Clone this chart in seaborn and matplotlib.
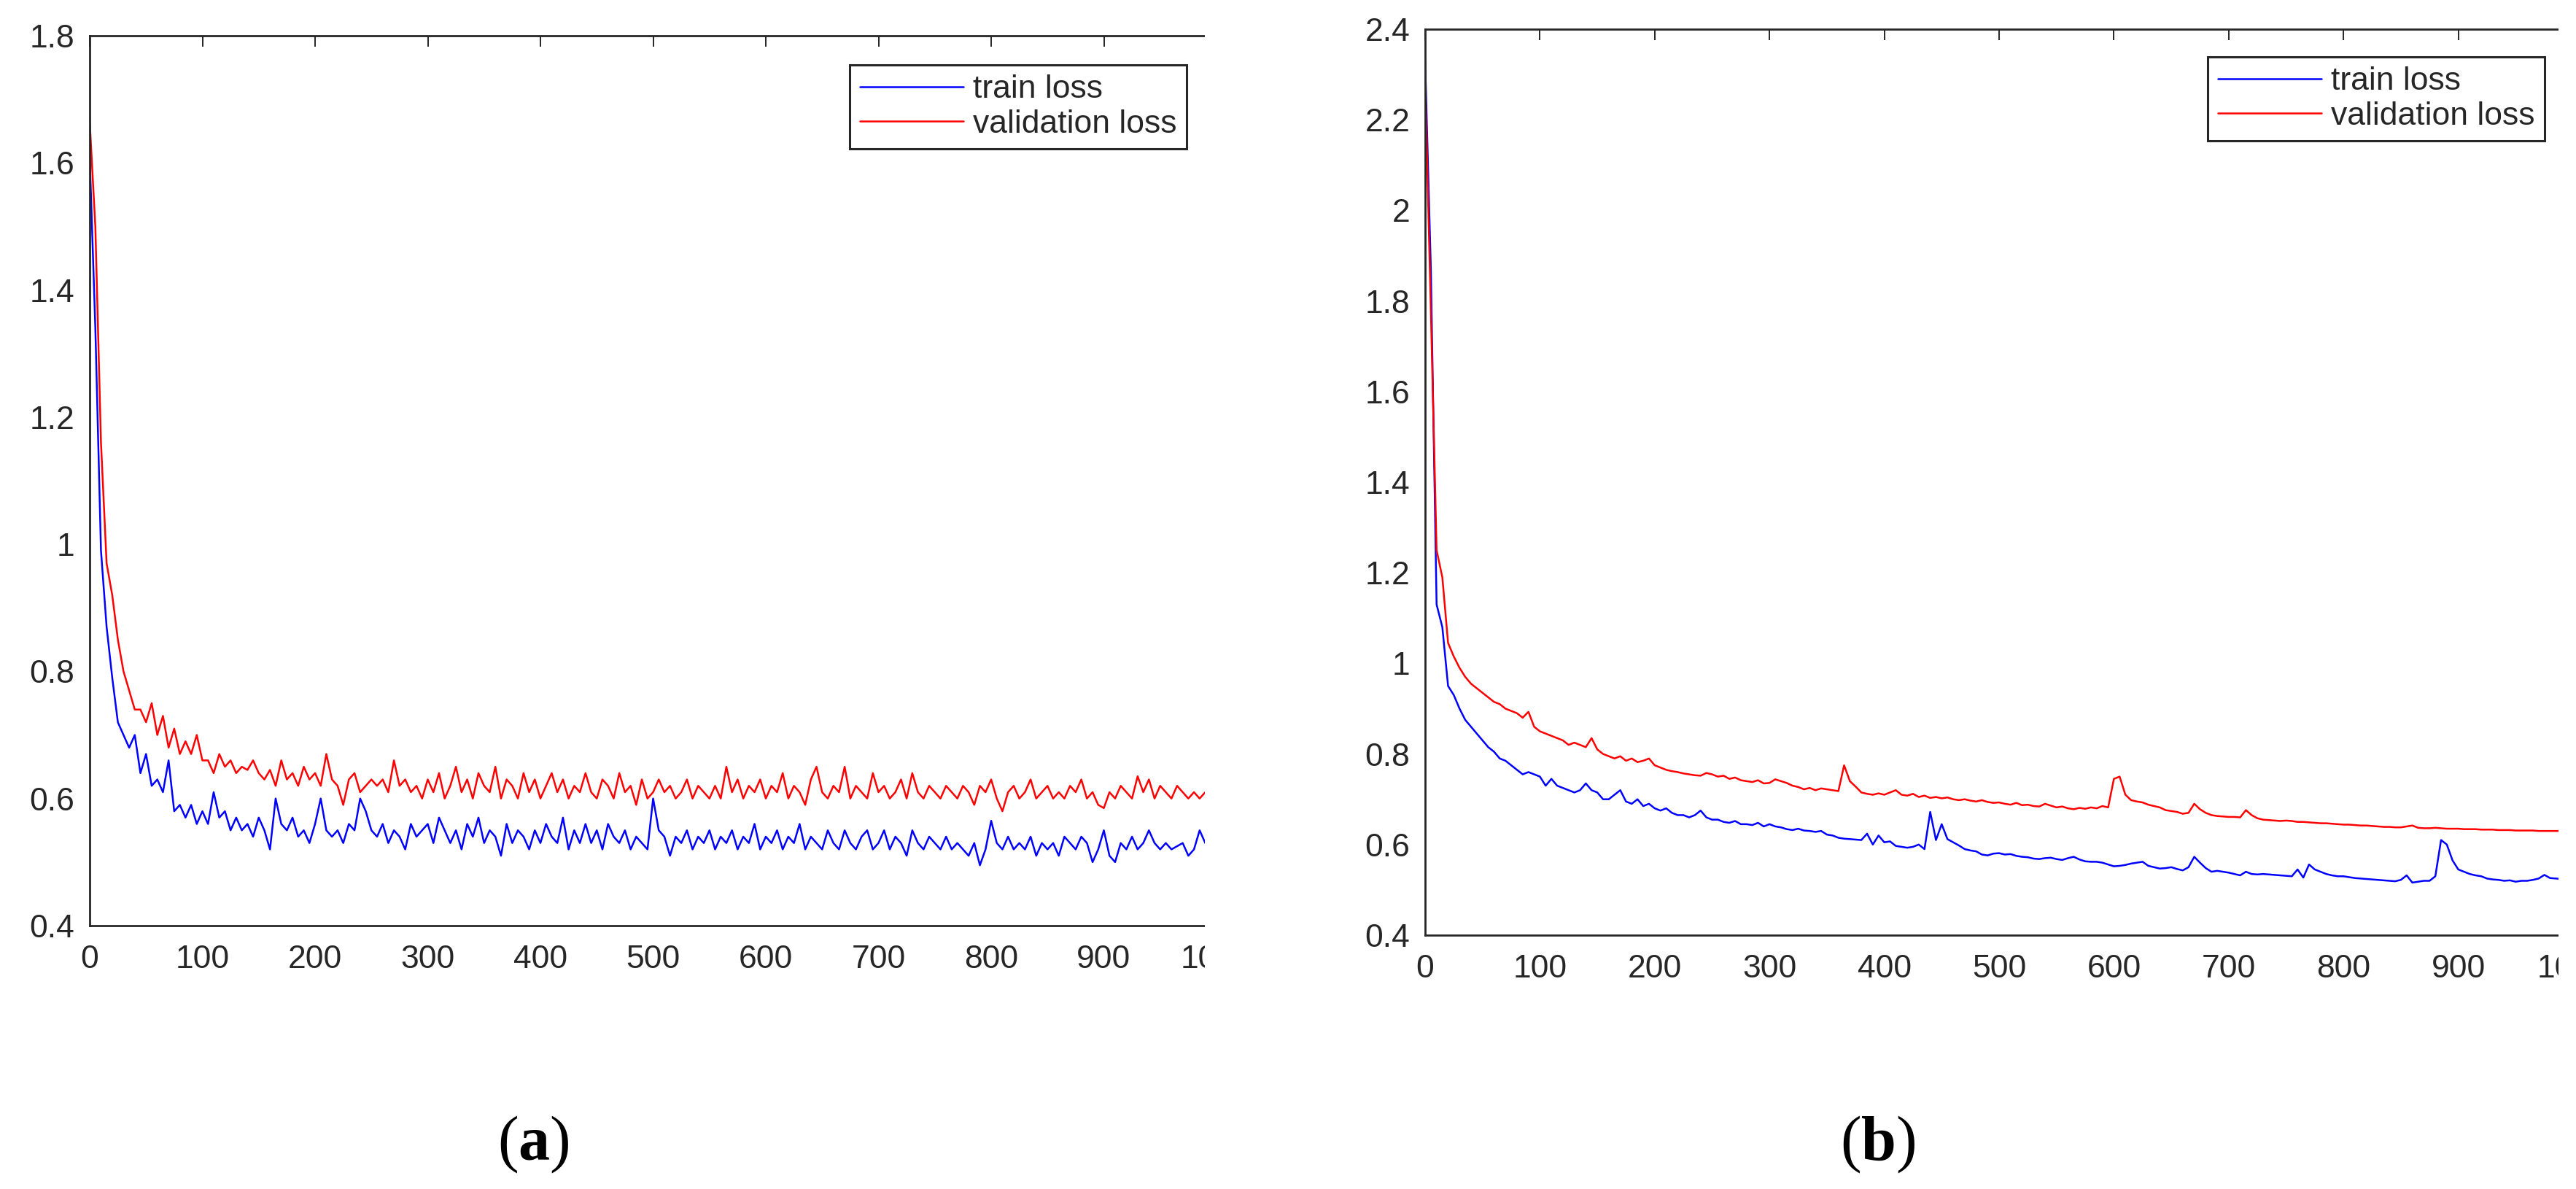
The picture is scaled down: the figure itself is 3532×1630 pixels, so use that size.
import matplotlib
matplotlib.use("Agg")
import matplotlib.pyplot as plt
from matplotlib.patches import Rectangle
import pandas as pd
import seaborn as sns

epochs = list(range(0, 1001, 5))

train_a = [
    1.61, 1.34, 0.99, 0.87, 0.79, 0.72, 0.70, 0.68, 0.70, 0.64,
    0.67, 0.62, 0.63, 0.61, 0.66, 0.58, 0.59, 0.57, 0.59, 0.56,
    0.58, 0.56, 0.61, 0.57, 0.58, 0.55, 0.57, 0.55, 0.56, 0.54,
    0.57, 0.55, 0.52, 0.60, 0.56, 0.55, 0.57, 0.54, 0.55, 0.53,
    0.56, 0.60, 0.55, 0.54, 0.55, 0.53, 0.56, 0.55, 0.60, 0.58,
    0.55, 0.54, 0.56, 0.53, 0.55, 0.54, 0.52, 0.56, 0.54, 0.55,
    0.56, 0.53, 0.57, 0.55, 0.53, 0.55, 0.52, 0.56, 0.54, 0.57,
    0.53, 0.55, 0.54, 0.51, 0.56, 0.53, 0.55, 0.54, 0.52, 0.55,
    0.53, 0.56, 0.54, 0.53, 0.57, 0.52, 0.55, 0.53, 0.56, 0.53,
    0.55, 0.52, 0.56, 0.54, 0.53, 0.55, 0.52, 0.54, 0.53, 0.52,
    0.60, 0.55, 0.54, 0.51, 0.54, 0.53, 0.55, 0.52, 0.54, 0.53,
    0.55, 0.52, 0.54, 0.53, 0.55, 0.52, 0.54, 0.53, 0.56, 0.52,
    0.54, 0.53, 0.55, 0.52, 0.54, 0.53, 0.56, 0.52, 0.54, 0.53,
    0.52, 0.55, 0.53, 0.52, 0.55, 0.53, 0.52, 0.54, 0.55, 0.52,
    0.53, 0.55, 0.52, 0.54, 0.53, 0.51, 0.55, 0.53, 0.52, 0.54,
    0.53, 0.52, 0.54, 0.52, 0.53, 0.52, 0.51, 0.53, 0.495, 0.52,
    0.565, 0.53, 0.52, 0.54, 0.52, 0.53, 0.52, 0.54, 0.51, 0.53,
    0.52, 0.53, 0.51, 0.54, 0.53, 0.52, 0.54, 0.53, 0.50, 0.52,
    0.55, 0.51, 0.50, 0.53, 0.52, 0.54, 0.52, 0.53, 0.55, 0.53,
    0.52, 0.53, 0.52, 0.525, 0.53, 0.51, 0.52, 0.55, 0.53, 0.52,
    0.53,
]

val_a = [
    1.665, 1.50, 1.16, 0.97, 0.92, 0.85, 0.80, 0.77, 0.74, 0.74,
    0.72, 0.75, 0.70, 0.73, 0.68, 0.71, 0.67, 0.69, 0.67, 0.70,
    0.66, 0.66, 0.64, 0.67, 0.65, 0.66, 0.64, 0.65, 0.645, 0.66,
    0.64, 0.63, 0.645, 0.62, 0.66, 0.63, 0.64, 0.62, 0.65, 0.63,
    0.64, 0.62, 0.67, 0.63, 0.62, 0.59, 0.63, 0.64, 0.61, 0.62,
    0.63, 0.62, 0.63, 0.61, 0.66, 0.62, 0.63, 0.61, 0.62, 0.60,
    0.63, 0.61, 0.64, 0.60, 0.62, 0.65, 0.61, 0.63, 0.60, 0.64,
    0.62, 0.61, 0.65, 0.60, 0.63, 0.62, 0.60, 0.64, 0.61, 0.63,
    0.60, 0.62, 0.64, 0.61, 0.63, 0.60, 0.62, 0.61, 0.64, 0.61,
    0.60, 0.63, 0.62, 0.60, 0.64, 0.61, 0.62, 0.59, 0.63, 0.60,
    0.61, 0.63, 0.61, 0.62, 0.60, 0.61, 0.63, 0.60, 0.62, 0.61,
    0.60, 0.62, 0.60, 0.65, 0.61, 0.63, 0.60, 0.62, 0.61, 0.63,
    0.60, 0.62, 0.61, 0.64, 0.60, 0.62, 0.61, 0.59, 0.63, 0.65,
    0.61, 0.60, 0.62, 0.61, 0.65, 0.60, 0.62, 0.61, 0.60, 0.64,
    0.61, 0.62, 0.60, 0.61, 0.63, 0.60, 0.64, 0.61, 0.60, 0.62,
    0.61, 0.60, 0.62, 0.61, 0.60, 0.62, 0.61, 0.59, 0.62, 0.61,
    0.63, 0.60, 0.58, 0.61, 0.62, 0.60, 0.61, 0.63, 0.60, 0.61,
    0.62, 0.60, 0.61, 0.60, 0.62, 0.61, 0.63, 0.60, 0.61, 0.59,
    0.585, 0.61, 0.60, 0.62, 0.61, 0.60, 0.635, 0.61, 0.63, 0.60,
    0.62, 0.61, 0.60, 0.62, 0.61, 0.60, 0.61, 0.60, 0.61, 0.60,
    0.61,
]

train_b = [
    2.33, 1.87, 1.13, 1.08, 0.95, 0.93, 0.90, 0.875, 0.86, 0.845,
    0.83, 0.815, 0.805, 0.79, 0.785, 0.775, 0.765, 0.755, 0.76, 0.755,
    0.75, 0.73, 0.745, 0.73, 0.725, 0.72, 0.715, 0.72, 0.735, 0.72,
    0.715, 0.70, 0.70, 0.71, 0.72, 0.695, 0.69, 0.70, 0.685, 0.69,
    0.68, 0.675, 0.68, 0.67, 0.665, 0.665, 0.66, 0.665, 0.675, 0.66,
    0.655, 0.655, 0.65, 0.648, 0.652, 0.645, 0.645, 0.643, 0.648, 0.64,
    0.645, 0.64, 0.638, 0.634, 0.632, 0.635, 0.631, 0.63, 0.628, 0.63,
    0.622, 0.62, 0.615, 0.613, 0.612, 0.611, 0.61, 0.624, 0.60, 0.62,
    0.605, 0.607, 0.597, 0.595, 0.593, 0.595, 0.60, 0.59, 0.672, 0.61,
    0.645, 0.612, 0.605, 0.598, 0.59, 0.587, 0.585, 0.578, 0.576, 0.58,
    0.581, 0.578, 0.579, 0.575, 0.573, 0.572, 0.569, 0.568, 0.57, 0.571,
    0.568, 0.566, 0.57, 0.573, 0.567, 0.563, 0.562, 0.562, 0.56, 0.556,
    0.552, 0.553, 0.555, 0.558, 0.56, 0.562, 0.553, 0.55, 0.547, 0.548,
    0.55, 0.546, 0.543, 0.55, 0.573, 0.56, 0.548, 0.54, 0.542, 0.54,
    0.538, 0.535, 0.532, 0.54, 0.535, 0.534, 0.535, 0.534, 0.533, 0.532,
    0.531, 0.53, 0.545, 0.527, 0.556, 0.545, 0.54, 0.535, 0.532, 0.53,
    0.53, 0.528, 0.526, 0.525, 0.524, 0.523, 0.522, 0.521, 0.52, 0.519,
    0.522, 0.532, 0.516, 0.518, 0.52, 0.52, 0.53, 0.61, 0.60, 0.565,
    0.545, 0.54, 0.535, 0.532, 0.53, 0.525, 0.523, 0.522, 0.52, 0.521,
    0.518, 0.52, 0.52, 0.522, 0.525, 0.533, 0.526, 0.525, 0.524, 0.526,
    0.525,
]

val_b = [
    2.29, 1.78, 1.25, 1.19, 1.045, 1.015, 0.99, 0.97, 0.955, 0.945,
    0.935, 0.925, 0.915, 0.91, 0.90, 0.895, 0.89, 0.88, 0.893, 0.86,
    0.85, 0.845, 0.84, 0.835, 0.83, 0.82, 0.825, 0.82, 0.815, 0.835,
    0.81, 0.80, 0.795, 0.79, 0.795, 0.785, 0.79, 0.782, 0.785, 0.79,
    0.775, 0.77, 0.765, 0.762, 0.76, 0.757, 0.755, 0.753, 0.752, 0.758,
    0.755, 0.75, 0.752, 0.745, 0.748, 0.742, 0.74, 0.738, 0.742, 0.735,
    0.736, 0.744, 0.74, 0.736, 0.73, 0.727, 0.722, 0.725, 0.72, 0.724,
    0.722, 0.72, 0.718, 0.775, 0.74, 0.728, 0.715, 0.712, 0.71, 0.713,
    0.71, 0.715, 0.72, 0.71, 0.708, 0.712, 0.705, 0.708, 0.703, 0.705,
    0.702, 0.704, 0.70, 0.698, 0.70, 0.697, 0.695, 0.698, 0.694, 0.692,
    0.693, 0.69, 0.688, 0.692, 0.687, 0.688, 0.685, 0.684, 0.69, 0.686,
    0.682, 0.684, 0.68, 0.678, 0.681, 0.679, 0.682, 0.68, 0.685, 0.682,
    0.745, 0.75, 0.71, 0.698, 0.695, 0.693, 0.688, 0.685, 0.682, 0.676,
    0.674, 0.672, 0.668, 0.67, 0.69, 0.678, 0.67, 0.665, 0.663, 0.662,
    0.661, 0.661, 0.66, 0.676, 0.665, 0.658, 0.655, 0.654, 0.653, 0.652,
    0.653, 0.652, 0.65, 0.65, 0.649, 0.648, 0.647, 0.647, 0.646, 0.645,
    0.644, 0.644, 0.643, 0.642, 0.642, 0.641, 0.64, 0.639, 0.639, 0.638,
    0.638, 0.64, 0.642, 0.637, 0.636, 0.636, 0.637, 0.636, 0.635, 0.635,
    0.635, 0.634, 0.634, 0.634, 0.633, 0.633, 0.633, 0.632, 0.632, 0.632,
    0.631, 0.631, 0.631, 0.631, 0.63, 0.63, 0.63, 0.63, 0.63, 0.63,
    0.63,
]

xticks = list(range(0, 1001, 100))
yticks_a = [0.4, 0.6, 0.8, 1.0, 1.2, 1.4, 1.6, 1.8]
ylabels_a = ["0.4", "0.6", "0.8", "1", "1.2", "1.4", "1.6", "1.8"]
yticks_b = [0.4, 0.6, 0.8, 1.0, 1.2, 1.4, 1.6, 1.8, 2.0, 2.2, 2.4]
ylabels_b = ["0.4", "0.6", "0.8", "1", "1.2", "1.4", "1.6", "1.8", "2", "2.2", "2.4"]

sns.set_style("white")
plt.rcParams["font.family"] = ["Liberation Sans", "DejaVu Sans"]
plt.rcParams["mathtext.fontset"] = "custom"
plt.rcParams["mathtext.rm"] = "Liberation Serif"
plt.rcParams["mathtext.bf"] = "Liberation Serif:bold"

W, H = 3532, 1630
INK = "#262626"
fig = plt.figure(figsize=(W / 100, H / 100), dpi=100)


def px_box(left, top, right, bottom):
    return [left / W, 1 - bottom / H, (right - left) / W, (bottom - top) / H]


def draw_panel(ax, train, val, ylim, yticks, ylabels, leg_right, leg_top):
    df = pd.DataFrame({"epoch": epochs, "train": train, "val": val})
    sns.lineplot(data=df, x="epoch", y="train", ax=ax, color="#0000ff",
                 linewidth=1.8, label="train loss")
    sns.lineplot(data=df, x="epoch", y="val", ax=ax, color="#ff0000",
                 linewidth=1.8, label="validation loss")
    ax.set_xlim(0, 1000)
    ax.set_ylim(*ylim)
    ax.set_xticks(xticks)
    ax.set_yticks(yticks)
    ax.set_yticklabels(ylabels)
    ax.set_xlabel("")
    ax.set_ylabel("")
    ax.tick_params(direction="in", length=11, width=1.4, top=True, right=True,
                   labelsize=32, colors=INK)
    ax.tick_params(axis="x", pad=19)
    ax.tick_params(axis="y", pad=15)
    for s in ax.spines.values():
        s.set_color(INK)
        s.set_linewidth(2.0)
    leg = ax.legend(loc="upper right", bbox_to_anchor=(leg_right / W, 1 - leg_top / H),
                    bbox_transform=fig.transFigure, borderaxespad=0, fontsize=32,
                    handlelength=3.2, handletextpad=0.3, labelspacing=0.15,
                    borderpad=0.3, fancybox=False, framealpha=1, edgecolor=INK)
    leg.get_frame().set_linewidth(2.2)


ax_a = fig.add_axes(px_box(123, 49, 1668, 1269))
ax_b = fig.add_axes(px_box(1954, 40, 3528, 1282))
draw_panel(ax_a, train_a, val_a, (0.4, 1.8), yticks_a, ylabels_a, 1627, 89)
draw_panel(ax_b, train_b, val_b, (0.4, 2.4), yticks_b, ylabels_b, 3489, 78)

# the source figure was cropped just before x = 1000 on both panels
fig.add_artist(Rectangle((1652 / W, 0), 150 / W, 1, transform=fig.transFigure,
                         facecolor="white", edgecolor="none", zorder=10))
fig.add_artist(Rectangle((3508 / W, 0), 40 / W, 1, transform=fig.transFigure,
                         facecolor="white", edgecolor="none", zorder=10))

fig.text(731 / W, 1 - 1569 / H, r"$(\mathbf{a})$", ha="center", va="center",
         fontsize=62, color="black")
fig.text(2575 / W, 1 - 1569 / H, r"$(\mathbf{b})$", ha="center", va="center",
         fontsize=62, color="black")

fig.savefig("out.png", dpi=100)
